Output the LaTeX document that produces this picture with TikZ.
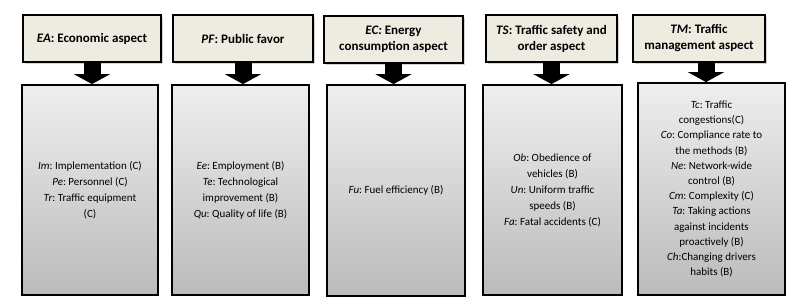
\documentclass[tikz,border=0pt]{standalone}
\usepackage{fontspec}
\setmainfont{Carlito}
\usepackage{xcolor}
\usepackage{tikz}
\usetikzlibrary{arrows.meta, shadows}

\definecolor{headbeige}{HTML}{EEECE1}
\definecolor{boxtop}{HTML}{EEEEEE}
\definecolor{boxbottom}{HTML}{BBBBBB}
\frenchspacing

\begin{document}
\begin{tikzpicture}[x=1pt, y=-1pt,
    aspect/.style={draw, line width=1.5pt, fill=headbeige, align=center, font=\fontsize{13}{16}\selectfont\bfseries,
        inner sep=0pt, drop shadow={shadow xshift=1.5pt, shadow yshift=-1.5pt, opacity=0.35, fill=gray}},
    factors/.style={draw, line width=1.8pt, top color=boxtop, bottom color=boxbottom, align=center,
        font=\fontsize{11}{16}\selectfont, inner sep=0pt},
    bigarrow/.style={line width=17pt, -{Triangle[width=36pt, length=10pt]}}]
		\useasboundingbox (0,0) rectangle (803,303);
		
		% Aspects
		\node[aspect, minimum width=138pt, minimum height=47pt] (ea) at (92,38.5) {\textit{EA}: Economic aspect};
		\node[aspect, minimum width=140pt, minimum height=47pt] (pf) at (243,38.5) {\textit{PF}: Public favor};
		\node[aspect, minimum width=139pt, minimum height=47pt] (ec) at (393.5,39.5) {\textit{EC:} Energy\\ consumption aspect};
		\node[aspect, minimum width=131pt, minimum height=47pt] (ts) at (551.5,38.5) {\textit{TS}: Traffic safety and\\ order aspect};
		\node[aspect, minimum width=132pt, minimum height=47pt] (tm) at (699,38.5) {\textit{TM}: Traffic\\ management aspect};
		
		% Factors
		\node[factors, minimum width=136pt, minimum height=210pt] (eaf) at (90,190) {\textit{Im}: Implementation (C)\\ \textit{Pe}: Personnel (C)\\ \textit{Tr}: Traffic equipment\\ (C)};
		\node[factors, minimum width=137pt, minimum height=210pt] (pff) at (240.5,190) {\textit{Ee}: Employment (B)\\ \textit{Te}: Technological\\ improvement (B)\\ \textit{Qu}: Quality of life (B)};
		\node[factors, minimum width=138pt, minimum height=211pt] (ecf) at (396,190.5) {\textit{Fu}: Fuel efficiency (B)};
		\node[factors, minimum width=139pt, minimum height=210pt] (tsf) at (552.5,190) {\textit{Ob}: Obedience of\\ vehicles (B)\\ \textit{Un}: Uniform traffic\\ speeds (B)\\ \textit{Fa}: Fatal accidents (C)};
		\node[factors, minimum width=147pt, minimum height=212pt, font=\fontsize{11}{15.2}\selectfont] (tmf) at (711.5,189) {\textit{Tc}: Traffic\\ congestions(C)\\ \textit{Co}: Compliance rate to\\ the methods (B)\\ \textit{Ne}: Network-wide\\ control (B)\\ \textit{Cm}: Complexity (C)\\ \textit{Ta}: Taking actions\\ against incidents\\ proactively (B)\\ \textit{Ch}:Changing drivers\\ habits (B)};
		
		% Arrows
		\coordinate (tmarrow) at (706,62);
		\draw[bigarrow] (ea.south) -- (ea.south |- eaf.north);
		\draw[bigarrow] (pf.south) -- (pf.south |- pff.north);
		\draw[bigarrow] (ec.south) -- (ec.south |- ecf.north);
		\draw[bigarrow] (ts.south) -- (ts.south |- tsf.north);
		\draw[bigarrow] (tmarrow) -- (tmarrow |- tmf.north);
	\end{tikzpicture}
\end{document}
